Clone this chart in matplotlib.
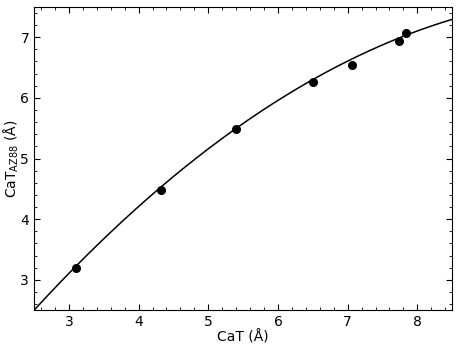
import numpy as np
import matplotlib
matplotlib.use('Agg')
import matplotlib.pyplot as plt
from matplotlib.ticker import MultipleLocator

# measured points
cat = [3.10, 4.32, 5.40, 6.51, 7.06, 7.74, 7.84]
cat_az88 = [3.19, 4.48, 5.49, 6.26, 6.55, 6.93, 7.07]

# quadratic relation (a + b*x + c*x^2)
coeffs = [-0.0757, 1.632, -1.108]

fig = plt.figure(figsize=(4.6, 3.45), dpi=100)
ax = fig.add_axes([0.074, 0.101, 0.909, 0.879])

xx = np.linspace(2.5, 8.5, 200)
ax.plot(xx, np.polyval(coeffs, xx), color='black', lw=1.1)
ax.plot(cat, cat_az88, 'o', color='black', ms=5.5)

ax.set_xlim(2.5, 8.5)
ax.set_ylim(2.5, 7.5)
ax.xaxis.set_major_locator(MultipleLocator(1))
ax.yaxis.set_major_locator(MultipleLocator(1))
ax.xaxis.set_minor_locator(MultipleLocator(0.2))
ax.yaxis.set_minor_locator(MultipleLocator(0.2))
ax.tick_params(which='both', direction='in', top=True, right=True, labelsize=10)
ax.tick_params(which='major', length=4)
ax.tick_params(which='minor', length=2)

ax.set_xlabel('CaT (Å)', fontsize=10, labelpad=1)
ax.set_ylabel(r'CaT$_{\rm AZ88}$ (Å)', fontsize=10)
ax.yaxis.set_label_coords(-0.031, 0.5)

fig.savefig('out.png', dpi=100)
